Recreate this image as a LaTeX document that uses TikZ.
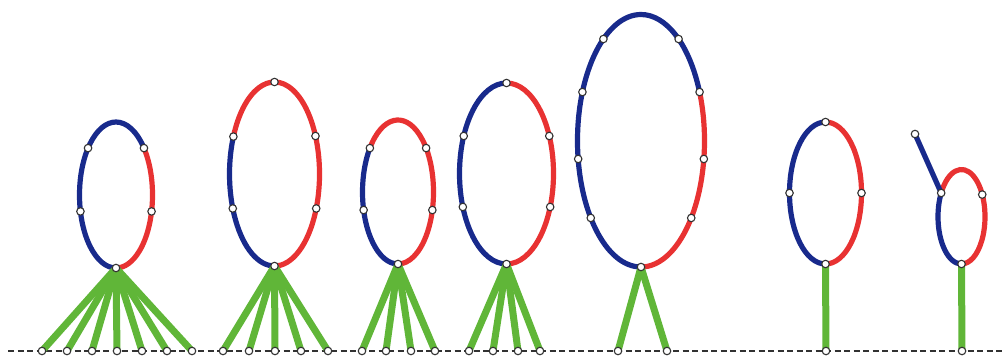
\documentclass[tikz,border=0pt]{standalone}
\usetikzlibrary{backgrounds}
\definecolor{lblue}{RGB}{24,42,140}
\definecolor{lred}{RGB}{232,50,50}
\definecolor{lgreen}{RGB}{96,182,56}
\definecolor{lgray}{RGB}{50,50,50}
\newcommand\ept[5]{\path (#1) ++(#2:#3 and #4) node[ptnode] (#5) {};}
\newcommand\gnd[2]{\node[ptnode] (#1) at (#2,351) {};}
\begin{document}
\begin{tikzpicture}[x=1pt,y=-1pt,
  ptnode/.style={circle,inner sep=0pt,minimum size=7.5pt,fill=white,draw=lgray,line width=1.1pt},
  blueline/.style={draw=lblue,line width=5.2pt},
  redline/.style={draw=lred,line width=5.2pt},
  greenline/.style={draw=lgreen,line width=7pt},
  baseline/.style={draw=lgray,line width=1.5pt,dash pattern=on 6pt off 3.5pt}]
\useasboundingbox (0,0) rectangle (1004,356);
% centres
\coordinate (o1) at (116,195);
\coordinate (o2) at (274.5,174);
\coordinate (o3) at (398,192);
\coordinate (o4) at (506.5,173.5);
\coordinate (o5) at (641,140.75);
\coordinate (o6) at (825.5,193);
\coordinate (o7) at (961.5,216.75);
\coordinate (gl) at (8,351);
\coordinate (gr) at (1004,351);
% loop 1
\ept{o1}{90}{36.5}{73}{a0}
\ept{o1}{167}{36.5}{73}{a1}
\ept{o1}{220}{36.5}{73}{a2}
\ept{o1}{320}{36.5}{73}{a3}
\ept{o1}{13}{36.5}{73}{a4}
% loop 2
\ept{o2}{90}{45}{92}{b0}
\ept{o2}{158}{45}{92}{b1}
\ept{o2}{204}{45}{92}{b2}
\ept{o2}{270}{45}{92}{b3}
\ept{o2}{335.6}{45}{92}{b4}
\ept{o2}{22}{45}{92}{b5}
% loop 3
\ept{o3}{90}{35.5}{72}{c0}
\ept{o3}{165.5}{35.5}{72}{c1}
\ept{o3}{217.6}{35.5}{72}{c2}
\ept{o3}{322.4}{35.5}{72}{c3}
\ept{o3}{14.5}{35.5}{72}{c4}
% loop 4
\ept{o4}{90}{47}{90.5}{d0}
\ept{o4}{158.3}{47}{90.5}{d1}
\ept{o4}{204.5}{47}{90.5}{d2}
\ept{o4}{270}{47}{90.5}{d3}
\ept{o4}{335.5}{47}{90.5}{d4}
\ept{o4}{21.7}{47}{90.5}{d5}
% loop 5
\ept{o5}{90}{63.5}{126.25}{e0}
\ept{o5}{142.3}{63.5}{126.25}{e1}
\ept{o5}{171.7}{63.5}{126.25}{e2}
\ept{o5}{202.7}{63.5}{126.25}{e3}
\ept{o5}{233.7}{63.5}{126.25}{e4}
\ept{o5}{306.3}{63.5}{126.25}{e5}
\ept{o5}{337.3}{63.5}{126.25}{e6}
\ept{o5}{8.3}{63.5}{126.25}{e7}
\ept{o5}{37.7}{63.5}{126.25}{e8}
% loop 6
\ept{o6}{90}{36}{71}{f0}
\ept{o6}{180}{36}{71}{f1}
\ept{o6}{270}{36}{71}{f2}
\ept{o6}{0}{36}{71}{f3}
% loop 7
\ept{o7}{90}{23.5}{47.25}{h0}
\ept{o7}{210.2}{23.5}{47.25}{h1}
\ept{o7}{332}{23.5}{47.25}{h2}
\node[ptnode] (h3) at (915,134) {};
% ground nodes
\gnd{g11}{42}\gnd{g12}{67}\gnd{g13}{92}\gnd{g14}{117}\gnd{g15}{142}\gnd{g16}{167}\gnd{g17}{192}
\gnd{g21}{223}\gnd{g22}{249}\gnd{g23}{275}\gnd{g24}{301}\gnd{g25}{328}
\gnd{g31}{362}\gnd{g32}{386}\gnd{g33}{411}\gnd{g34}{435}
\gnd{g41}{469}\gnd{g42}{493}\gnd{g43}{518}\gnd{g44}{540}
\gnd{g51}{618}\gnd{g52}{667}
\gnd{g61}{826}
\gnd{g71}{962}
\begin{pgfonlayer}{background}
\draw[baseline] (gl) -- (gr);
% loop arcs
\draw[blueline] (a0.center) arc[start angle=90,end angle=320,x radius=36.5,y radius=73];
\draw[redline] (a3.center) arc[start angle=320,end angle=450,x radius=36.5,y radius=73];
\draw[blueline] (b0.center) arc[start angle=90,end angle=204,x radius=45,y radius=92];
\draw[redline] (b2.center) arc[start angle=204,end angle=450,x radius=45,y radius=92];
\draw[blueline] (c0.center) arc[start angle=90,end angle=217.6,x radius=35.5,y radius=72];
\draw[redline] (c2.center) arc[start angle=217.6,end angle=450,x radius=35.5,y radius=72];
\draw[blueline] (d0.center) arc[start angle=90,end angle=270,x radius=47,y radius=90.5];
\draw[redline] (d3.center) arc[start angle=270,end angle=450,x radius=47,y radius=90.5];
\draw[blueline] (e0.center) arc[start angle=90,end angle=337.3,x radius=63.5,y radius=126.25];
\draw[redline] (e6.center) arc[start angle=337.3,end angle=450,x radius=63.5,y radius=126.25];
\draw[blueline] (f0.center) arc[start angle=90,end angle=270,x radius=36,y radius=71];
\draw[redline] (f2.center) arc[start angle=270,end angle=450,x radius=36,y radius=71];
\draw[blueline] (h0.center) arc[start angle=90,end angle=210.2,x radius=23.5,y radius=47.25];
\draw[redline] (h1.center) arc[start angle=210.2,end angle=450,x radius=23.5,y radius=47.25];
\draw[blueline] (h3.center) -- (h1.center);
% green connectors
\foreach \g in {g11,g12,g13,g14,g15,g16,g17} \draw[greenline] (a0.center) -- (\g.center);
\foreach \g in {g21,g22,g23,g24,g25} \draw[greenline] (b0.center) -- (\g.center);
\foreach \g in {g31,g32,g33,g34} \draw[greenline] (c0.center) -- (\g.center);
\foreach \g in {g41,g42,g43,g44} \draw[greenline] (d0.center) -- (\g.center);
\foreach \g in {g51,g52} \draw[greenline] (e0.center) -- (\g.center);
\draw[greenline] (f0.center) -- (g61.center);
\draw[greenline] (h0.center) -- (g71.center);
\end{pgfonlayer}
\end{tikzpicture}
\end{document}
